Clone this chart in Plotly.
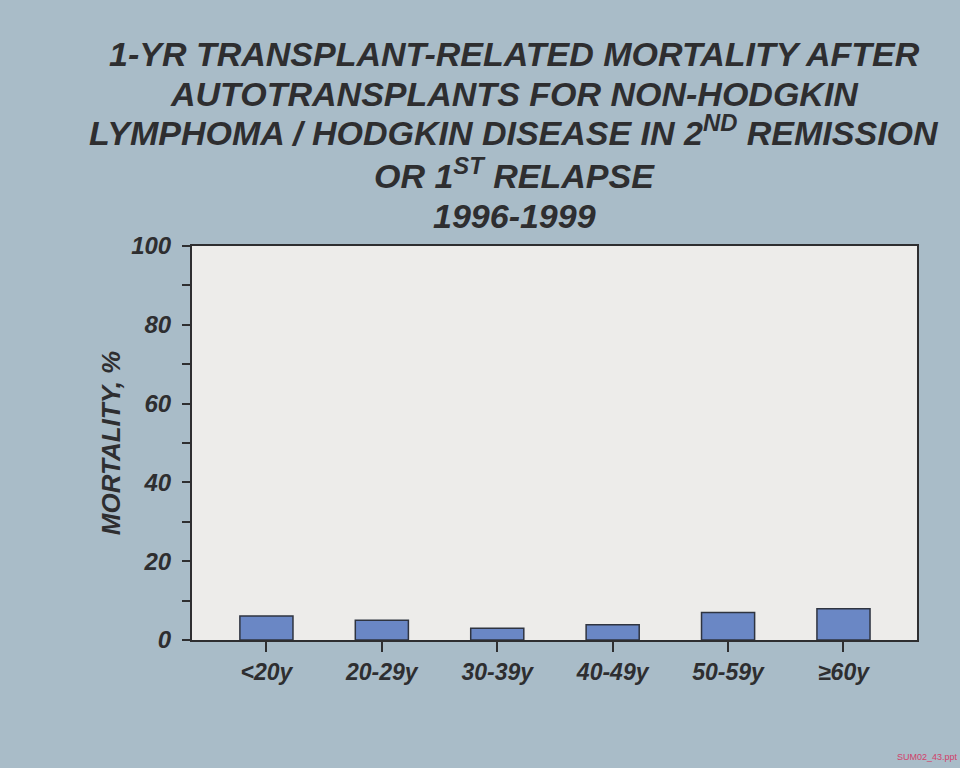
import plotly.graph_objects as go

categories = ["<20y", "20-29y", "30-39y", "40-49y", "50-59y", "\u226560y"]
mortality = [6.1, 5.0, 3.0, 3.9, 7.0, 7.9]
y_tick_vals = [0, 20, 40, 60, 80, 100]
y_tick_text = ["0", "20", "40", "60", "80", "100"]

title_lines = ["1-YR TRANSPLANT-RELATED MORTALITY AFTER",
               "AUTOTRANSPLANTS FOR NON-HODGKIN",
               "LYMPHOMA / HODGKIN DISEASE IN 2<sup>ND</sup> REMISSION",
               "OR 1<sup>ST</sup> RELAPSE",
               "1996-1999"]
title_line_px = [54, 94, 130, 173, 216]

BG = "#a9bcc8"
INK = "#2e2e30"
FONT = "Liberation Sans"

W, H = 960, 768
ML, MR, MT, MB = 192, 43, 246, 128
PW, PH = W - ML - MR, H - MT - MB

fig = go.Figure()
fig.add_trace(go.Bar(
    x=list(range(len(categories))),
    y=mortality,
    width=0.46,
    marker=dict(color="#6a87c5", line=dict(color="#2f3440", width=1.5)),
    hoverinfo="skip",
))

fig.update_layout(
    width=W, height=H,
    paper_bgcolor=BG, plot_bgcolor="#edecea",
    margin=dict(l=ML, r=MR, t=MT, b=MB),
    showlegend=False,
    xaxis=dict(
        range=[-0.645, 5.637],
        tickmode="array", tickvals=list(range(len(categories))), ticktext=categories,
        ticks="outside", ticklen=10, tickwidth=1.5, tickcolor=INK,
        showline=True, linecolor=INK, linewidth=2, mirror=True,
        showgrid=False, zeroline=False,
        tickfont=dict(family=FONT, size=23, color=INK, weight="bold", style="italic"),
        ticklabelstandoff=0,
    ),
    yaxis=dict(
        range=[0, 100],
        tickmode="array", tickvals=y_tick_vals, ticktext=y_tick_text,
        ticks="outside", ticklen=8, tickwidth=1.5, tickcolor=INK,
        minor=dict(dtick=10, tick0=0, ticks="outside", ticklen=8, tickwidth=1.5, tickcolor=INK, showgrid=False),
        showline=True, linecolor=INK, linewidth=2, mirror=True,
        showgrid=False, zeroline=False,
        tickfont=dict(family=FONT, size=24, color=INK, weight="bold", style="italic"),
        ticklabelstandoff=6,
        title=dict(text="MORTALITY, %", standoff=3,
                   font=dict(family=FONT, size=26, color=INK, weight="bold", style="italic")),
    ),
)

for line, py in zip(title_lines, title_line_px):
    fig.add_annotation(text=line, xref="paper", yref="paper",
                       x=(514 - ML) / PW, y=1 + (MT - py) / PH,
                       xanchor="center", yanchor="middle", showarrow=False,
                       font=dict(family=FONT, size=34, color=INK, weight="bold", style="italic"))

fig.add_annotation(text="SUM02_43.ppt", xref="paper", yref="paper",
                   x=1 + MR / PW, y=-(H - MT - PH - 4) / PH, xanchor="right", yanchor="bottom",
                   showarrow=False,
                   font=dict(family=FONT, size=9, color="#d2416a"))

fig.write_html("out.html", config={"displayModeBar": False},
               post_script="document.body.style.margin='0';document.body.style.background='%s';" % BG)
